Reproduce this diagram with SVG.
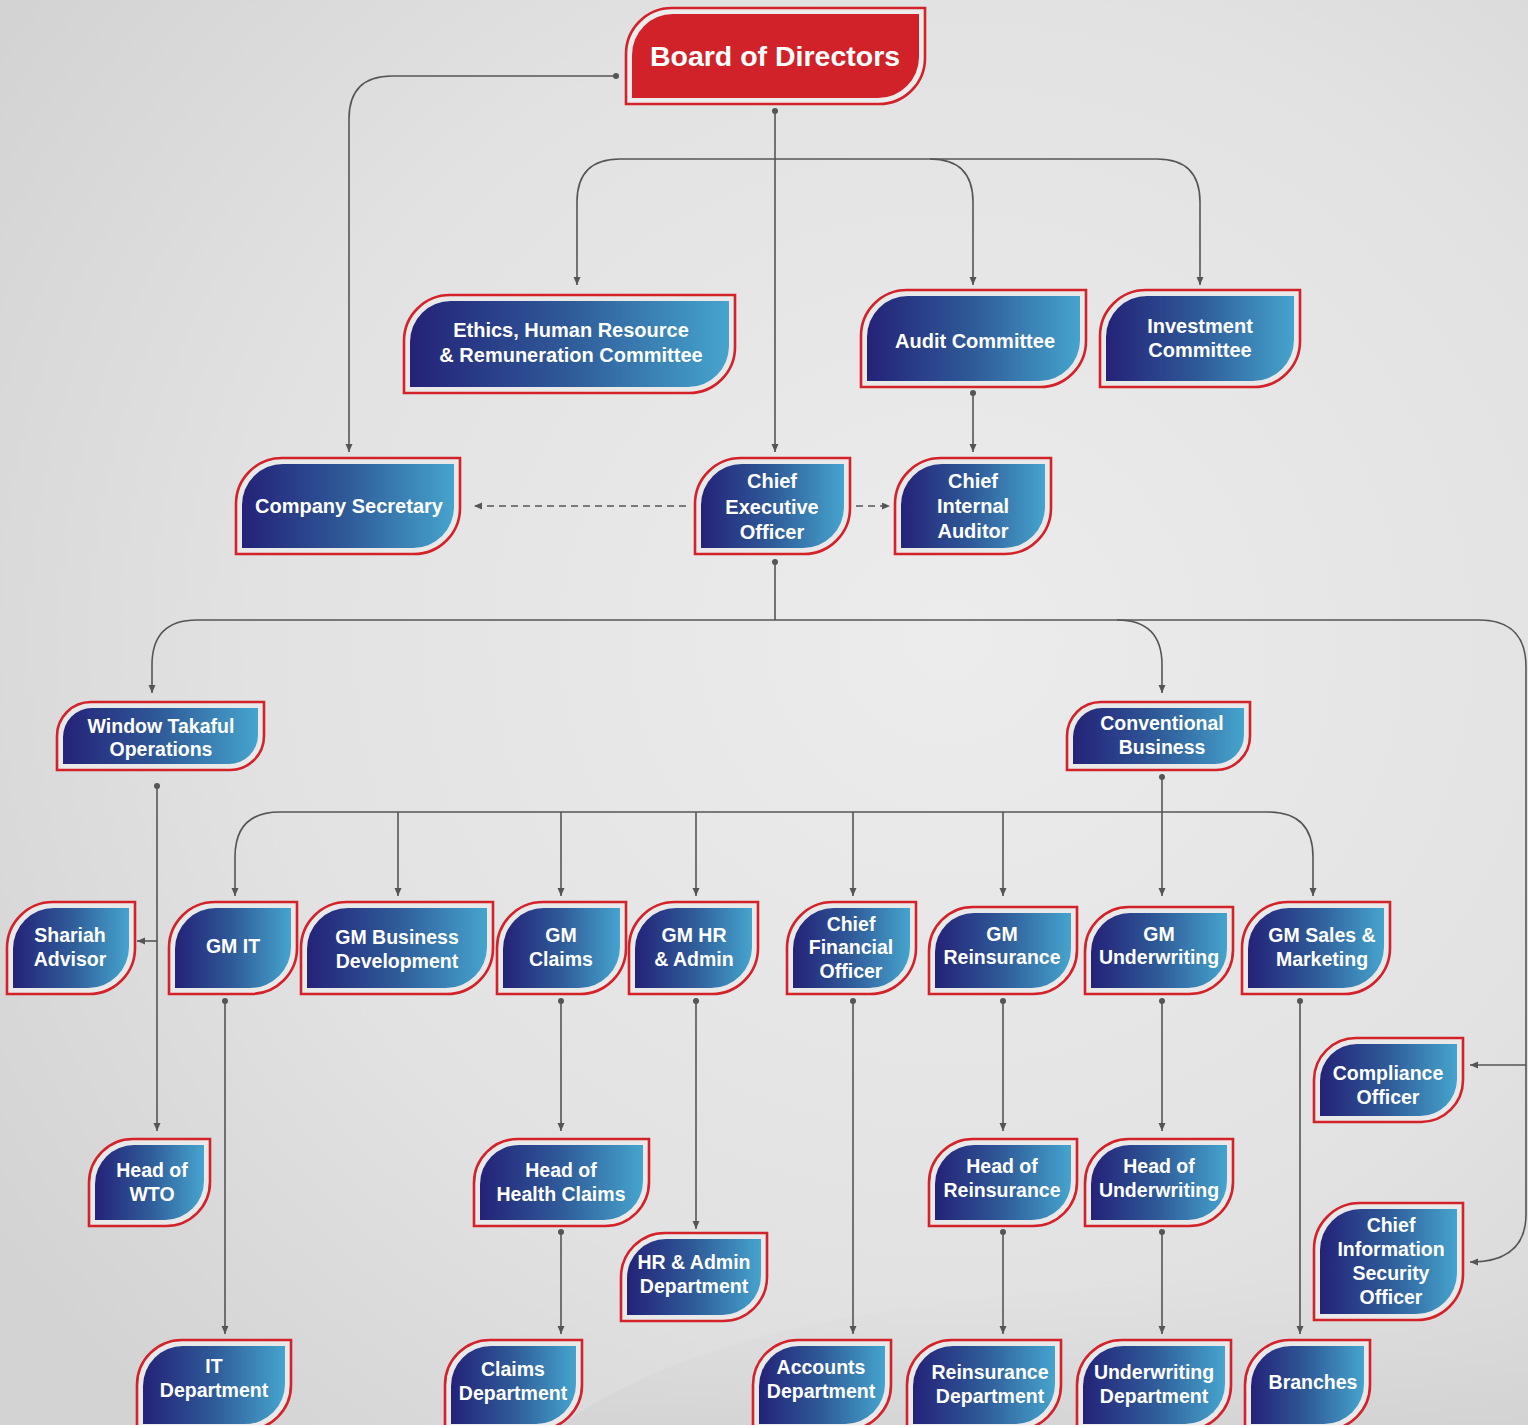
<svg xmlns="http://www.w3.org/2000/svg" width="1528" height="1425" viewBox="0 0 1528 1425">
<defs>
<linearGradient id="g" x1="0" y1="0" x2="1" y2="0">
<stop offset="0" stop-color="#242278"/>
<stop offset="0.5" stop-color="#2f5b99"/>
<stop offset="1" stop-color="#45a4cd"/>
</linearGradient>
<radialGradient id="bg" cx="0.62" cy="0.45" r="0.75">
<stop offset="0" stop-color="#ececec"/>
<stop offset="0.6" stop-color="#e2e2e2"/>
<stop offset="1" stop-color="#d3d3d3"/>
</radialGradient>
<linearGradient id="sw" x1="0" y1="0" x2="0" y2="1">
<stop offset="0" stop-color="#d8d8d8" stop-opacity="0"/>
<stop offset="1" stop-color="#cfcfcf" stop-opacity="0.9"/>
</linearGradient>
<marker id="ar" markerUnits="userSpaceOnUse" markerWidth="10" markerHeight="8" refX="8" refY="3.5" orient="auto">
<path d="M0,0 L8,3.5 L0,7 Z" fill="#555557"/>
</marker>
<marker id="dt" markerUnits="userSpaceOnUse" markerWidth="8" markerHeight="8" refX="4" refY="4">
<circle cx="4" cy="4" r="3" fill="#555557"/>
</marker>
<style>
.o{fill:#e9e9e9;stroke:#d3222a;stroke-width:2.6}
.i{fill:url(#g)}
.ob{fill:#ececec;stroke:#d3222a;stroke-width:2.6}
.ib{fill:#d1222a}
.t{fill:#ffffff;font-family:"Liberation Sans",Arial,Helvetica,sans-serif;font-weight:bold;font-size:19.5px;text-anchor:middle}
.t2{font-size:20px}
.c{fill:none;stroke:#555557;stroke-width:1.6}
.a{marker-end:url(#ar)}
.d{marker-start:url(#dt)}
.ds{stroke-dasharray:7 5}
</style>
</defs>
<rect width="1528" height="1425" fill="url(#bg)"/>
<path d="M560,1425 C700,1330 900,1280 1528,1270 V1425 Z" fill="url(#sw)" opacity="0.6"/>

<g id="connectors">
<path class="c d a" d="M616,76 H392 Q349,76 349,119 V452"/>
<path class="c d a" d="M775,111 V452"/>
<path class="c a" d="M775,159 H620 Q577,159 577,202 V285"/>
<path class="c a" d="M775,159 H930 Q973,159 973,202 V285"/>
<path class="c a" d="M930,159 H1157 Q1200,159 1200,202 V285"/>
<path class="c d a" d="M973,393 V452"/>
<path class="c ds a" d="M686,506 H474"/>
<path class="c ds a" d="M856,506 H890"/>
<path class="c d" d="M775,562 V620"/>
<path class="c a" d="M775,620 H197 Q152,620 152,665 V693"/>
<path class="c a" d="M775,620 H1117 Q1162,620 1162,665 V693"/>
<path class="c a" d="M1117,620 H1479 Q1526,620 1526,667 V1214 Q1526,1262 1470,1262"/>
<path class="c a" d="M1526,1065 H1470"/>
<path class="c d a" d="M157,786 V1131"/>
<path class="c a" d="M157,941 H137"/>
<path class="c d a" d="M1162,777 V896"/>
<path class="c a" d="M1162,812 H280 Q235,812 235,857 V896"/>
<path class="c a" d="M1162,812 H1268 Q1313,812 1313,857 V896"/>
<path class="c a" d="M398,812 V896"/>
<path class="c a" d="M561,812 V896"/>
<path class="c a" d="M696,812 V896"/>
<path class="c a" d="M853,812 V896"/>
<path class="c a" d="M1003,812 V896"/>
<path class="c d a" d="M225,1001 V1334"/>
<path class="c d a" d="M561,1001 V1131"/>
<path class="c d a" d="M561,1232 V1334"/>
<path class="c d a" d="M696,1001 V1229"/>
<path class="c d a" d="M853,1001 V1334"/>
<path class="c d a" d="M1003,1001 V1131"/>
<path class="c d a" d="M1003,1232 V1334"/>
<path class="c d a" d="M1162,1001 V1131"/>
<path class="c d a" d="M1162,1232 V1334"/>
<path class="c d a" d="M1300,1001 V1334"/>
</g>

<g id="board">
<path class="ob" d="M626,104 V54 A46,46 0 0 1 672,8 H925 V58 A46,46 0 0 1 879,104 Z"/>
<path class="ib" d="M632,98 V55 A41,41 0 0 1 673,14 H919 V57 A41,41 0 0 1 878,98 Z"/>
<text class="t" style="font-size:28.5px" x="775" y="66">Board of Directors</text>
</g>
<g id="ethics">
<path class="o" d="M404,393 V341 A46,46 0 0 1 450,295 H735 V347 A46,46 0 0 1 689,393 Z"/>
<path class="i" d="M410,387 V342 A41,41 0 0 1 451,301 H729 V346 A41,41 0 0 1 688,387 Z"/>
<text class="t t2" x="571" y="337">Ethics, Human Resource</text>
<text class="t t2" x="571" y="362">&amp; Remuneration Committee</text>
</g>
<g id="audit">
<path class="o" d="M861,387 V336 A46,46 0 0 1 907,290 H1086 V341 A46,46 0 0 1 1040,387 Z"/>
<path class="i" d="M867,381 V337 A41,41 0 0 1 908,296 H1080 V340 A41,41 0 0 1 1039,381 Z"/>
<text class="t t2" x="975" y="348">Audit Committee</text>
</g>
<g id="investment">
<path class="o" d="M1100,387 V336 A46,46 0 0 1 1146,290 H1300 V341 A46,46 0 0 1 1254,387 Z"/>
<path class="i" d="M1106,381 V337 A41,41 0 0 1 1147,296 H1294 V340 A41,41 0 0 1 1253,381 Z"/>
<text class="t t2" x="1200" y="333">Investment</text>
<text class="t t2" x="1200" y="357">Committee</text>
</g>
<g id="company-secretary">
<path class="o" d="M236,554 V504 A46,46 0 0 1 282,458 H460 V508 A46,46 0 0 1 414,554 Z"/>
<path class="i" d="M242,548 V505 A41,41 0 0 1 283,464 H454 V507 A41,41 0 0 1 413,548 Z"/>
<text class="t t2" x="349" y="513">Company Secretary</text>
</g>
<g id="ceo">
<path class="o" d="M695,554 V504 A46,46 0 0 1 741,458 H850 V508 A46,46 0 0 1 804,554 Z"/>
<path class="i" d="M701,548 V505 A41,41 0 0 1 742,464 H844 V507 A41,41 0 0 1 803,548 Z"/>
<text class="t t2" x="772" y="488">Chief</text>
<text class="t t2" x="772" y="514">Executive</text>
<text class="t t2" x="772" y="539">Officer</text>
</g>
<g id="cia">
<path class="o" d="M895,554 V504 A46,46 0 0 1 941,458 H1051 V508 A46,46 0 0 1 1005,554 Z"/>
<path class="i" d="M901,548 V505 A41,41 0 0 1 942,464 H1045 V507 A41,41 0 0 1 1004,548 Z"/>
<text class="t t2" x="973" y="488">Chief</text>
<text class="t t2" x="973" y="513">Internal</text>
<text class="t t2" x="973" y="538">Auditor</text>
</g>
<g id="window-takaful">
<path class="o" d="M57,770 V736 A34,34 0 0 1 91,702 H264 V736 A34,34 0 0 1 230,770 Z"/>
<path class="i" d="M63,764 V737 A29,29 0 0 1 92,708 H258 V735 A29,29 0 0 1 229,764 Z"/>
<text class="t" x="161" y="733">Window Takaful</text>
<text class="t" x="161" y="756">Operations</text>
</g>
<g id="conventional">
<path class="o" d="M1067,770 V736 A34,34 0 0 1 1101,702 H1250 V736 A34,34 0 0 1 1216,770 Z"/>
<path class="i" d="M1073,764 V737 A29,29 0 0 1 1102,708 H1244 V735 A29,29 0 0 1 1215,764 Z"/>
<text class="t" x="1162" y="730">Conventional</text>
<text class="t" x="1162" y="754">Business</text>
</g>
<g id="shariah">
<path class="o" d="M7,994 V948 A46,46 0 0 1 53,902 H135 V948 A46,46 0 0 1 89,994 Z"/>
<path class="i" d="M13,988 V949 A41,41 0 0 1 54,908 H129 V947 A41,41 0 0 1 88,988 Z"/>
<text class="t" x="70" y="942">Shariah</text>
<text class="t" x="70" y="966">Advisor</text>
</g>
<g id="gm-it">
<path class="o" d="M169,994 V948 A46,46 0 0 1 215,902 H297 V948 A46,46 0 0 1 251,994 Z"/>
<path class="i" d="M175,988 V949 A41,41 0 0 1 216,908 H291 V947 A41,41 0 0 1 250,988 Z"/>
<text class="t" x="233" y="953">GM IT</text>
</g>
<g id="gm-bd">
<path class="o" d="M301,994 V948 A46,46 0 0 1 347,902 H493 V948 A46,46 0 0 1 447,994 Z"/>
<path class="i" d="M307,988 V949 A41,41 0 0 1 348,908 H487 V947 A41,41 0 0 1 446,988 Z"/>
<text class="t" x="397" y="944">GM Business</text>
<text class="t" x="397" y="968">Development</text>
</g>
<g id="gm-claims">
<path class="o" d="M497,994 V948 A46,46 0 0 1 543,902 H626 V948 A46,46 0 0 1 580,994 Z"/>
<path class="i" d="M503,988 V949 A41,41 0 0 1 544,908 H620 V947 A41,41 0 0 1 579,988 Z"/>
<text class="t" x="561" y="942">GM</text>
<text class="t" x="561" y="966">Claims</text>
</g>
<g id="gm-hr">
<path class="o" d="M629,994 V948 A46,46 0 0 1 675,902 H758 V948 A46,46 0 0 1 712,994 Z"/>
<path class="i" d="M635,988 V949 A41,41 0 0 1 676,908 H752 V947 A41,41 0 0 1 711,988 Z"/>
<text class="t" x="694" y="942">GM HR</text>
<text class="t" x="694" y="966">&amp; Admin</text>
</g>
<g id="cfo">
<path class="o" d="M787,994 V948 A46,46 0 0 1 833,902 H916 V948 A46,46 0 0 1 870,994 Z"/>
<path class="i" d="M793,988 V949 A41,41 0 0 1 834,908 H910 V947 A41,41 0 0 1 869,988 Z"/>
<text class="t" x="851" y="931">Chief</text>
<text class="t" x="851" y="954">Financial</text>
<text class="t" x="851" y="978">Officer</text>
</g>
<g id="gm-reinsurance">
<path class="o" d="M929,994 V951 A44,44 0 0 1 973,907 H1077 V950 A44,44 0 0 1 1033,994 Z"/>
<path class="i" d="M935,988 V952 A39,39 0 0 1 974,913 H1071 V949 A39,39 0 0 1 1032,988 Z"/>
<text class="t" x="1002" y="941">GM</text>
<text class="t" x="1002" y="964">Reinsurance</text>
</g>
<g id="gm-underwriting">
<path class="o" d="M1085,994 V951 A44,44 0 0 1 1129,907 H1233 V950 A44,44 0 0 1 1189,994 Z"/>
<path class="i" d="M1091,988 V952 A39,39 0 0 1 1130,913 H1227 V949 A39,39 0 0 1 1188,988 Z"/>
<text class="t" x="1159" y="941">GM</text>
<text class="t" x="1159" y="964">Underwriting</text>
</g>
<g id="gm-sales">
<path class="o" d="M1242,994 V948 A46,46 0 0 1 1288,902 H1390 V948 A46,46 0 0 1 1344,994 Z"/>
<path class="i" d="M1248,988 V949 A41,41 0 0 1 1289,908 H1384 V947 A41,41 0 0 1 1343,988 Z"/>
<text class="t" x="1322" y="942">GM Sales &amp;</text>
<text class="t" x="1322" y="966">Marketing</text>
</g>
<g id="compliance">
<path class="o" d="M1314,1122 V1080 A42,42 0 0 1 1356,1038 H1463 V1080 A42,42 0 0 1 1421,1122 Z"/>
<path class="i" d="M1320,1116 V1081 A37,37 0 0 1 1357,1044 H1457 V1079 A37,37 0 0 1 1420,1116 Z"/>
<text class="t" x="1388" y="1080">Compliance</text>
<text class="t" x="1388" y="1104">Officer</text>
</g>
<g id="head-wto">
<path class="o" d="M89,1226 V1183 A44,44 0 0 1 133,1139 H210 V1182 A44,44 0 0 1 166,1226 Z"/>
<path class="i" d="M95,1220 V1184 A39,39 0 0 1 134,1145 H204 V1181 A39,39 0 0 1 165,1220 Z"/>
<text class="t" x="152" y="1177">Head of</text>
<text class="t" x="152" y="1201">WTO</text>
</g>
<g id="head-health-claims">
<path class="o" d="M474,1226 V1183 A44,44 0 0 1 518,1139 H649 V1182 A44,44 0 0 1 605,1226 Z"/>
<path class="i" d="M480,1220 V1184 A39,39 0 0 1 519,1145 H643 V1181 A39,39 0 0 1 604,1220 Z"/>
<text class="t" x="561" y="1177">Head of</text>
<text class="t" x="561" y="1201">Health Claims</text>
</g>
<g id="head-reinsurance">
<path class="o" d="M929,1226 V1183 A44,44 0 0 1 973,1139 H1077 V1182 A44,44 0 0 1 1033,1226 Z"/>
<path class="i" d="M935,1220 V1184 A39,39 0 0 1 974,1145 H1071 V1181 A39,39 0 0 1 1032,1220 Z"/>
<text class="t" x="1002" y="1173">Head of</text>
<text class="t" x="1002" y="1197">Reinsurance</text>
</g>
<g id="head-underwriting">
<path class="o" d="M1085,1226 V1183 A44,44 0 0 1 1129,1139 H1233 V1182 A44,44 0 0 1 1189,1226 Z"/>
<path class="i" d="M1091,1220 V1184 A39,39 0 0 1 1130,1145 H1227 V1181 A39,39 0 0 1 1188,1220 Z"/>
<text class="t" x="1159" y="1173">Head of</text>
<text class="t" x="1159" y="1197">Underwriting</text>
</g>
<g id="hr-admin-dept">
<path class="o" d="M621,1321 V1277 A44,44 0 0 1 665,1233 H767 V1277 A44,44 0 0 1 723,1321 Z"/>
<path class="i" d="M627,1315 V1278 A39,39 0 0 1 666,1239 H761 V1276 A39,39 0 0 1 722,1315 Z"/>
<text class="t" x="694" y="1269">HR &amp; Admin</text>
<text class="t" x="694" y="1293">Department</text>
</g>
<g id="ciso">
<path class="o" d="M1314,1320 V1249 A46,46 0 0 1 1360,1203 H1463 V1274 A46,46 0 0 1 1417,1320 Z"/>
<path class="i" d="M1320,1314 V1250 A41,41 0 0 1 1361,1209 H1457 V1273 A41,41 0 0 1 1416,1314 Z"/>
<text class="t" x="1391" y="1232">Chief</text>
<text class="t" x="1391" y="1256">Information</text>
<text class="t" x="1391" y="1280">Security</text>
<text class="t" x="1391" y="1304">Officer</text>
</g>
<g id="it-dept">
<path class="o" d="M137,1430 V1385 A45,45 0 0 1 182,1340 H291 V1385 A45,45 0 0 1 246,1430 Z"/>
<path class="i" d="M143,1424 V1386 A40,40 0 0 1 183,1346 H285 V1384 A40,40 0 0 1 245,1424 Z"/>
<text class="t" x="214" y="1373">IT</text>
<text class="t" x="214" y="1397">Department</text>
</g>
<g id="claims-dept">
<path class="o" d="M445,1430 V1385 A45,45 0 0 1 490,1340 H582 V1385 A45,45 0 0 1 537,1430 Z"/>
<path class="i" d="M451,1424 V1386 A40,40 0 0 1 491,1346 H576 V1384 A40,40 0 0 1 536,1424 Z"/>
<text class="t" x="513" y="1376">Claims</text>
<text class="t" x="513" y="1400">Department</text>
</g>
<g id="accounts-dept">
<path class="o" d="M753,1430 V1385 A45,45 0 0 1 798,1340 H891 V1385 A45,45 0 0 1 846,1430 Z"/>
<path class="i" d="M759,1424 V1386 A40,40 0 0 1 799,1346 H885 V1384 A40,40 0 0 1 845,1424 Z"/>
<text class="t" x="821" y="1374">Accounts</text>
<text class="t" x="821" y="1398">Department</text>
</g>
<g id="reinsurance-dept">
<path class="o" d="M907,1430 V1385 A45,45 0 0 1 952,1340 H1061 V1385 A45,45 0 0 1 1016,1430 Z"/>
<path class="i" d="M913,1424 V1386 A40,40 0 0 1 953,1346 H1055 V1384 A40,40 0 0 1 1015,1424 Z"/>
<text class="t" x="990" y="1379">Reinsurance</text>
<text class="t" x="990" y="1403">Department</text>
</g>
<g id="underwriting-dept">
<path class="o" d="M1077,1430 V1385 A45,45 0 0 1 1122,1340 H1231 V1385 A45,45 0 0 1 1186,1430 Z"/>
<path class="i" d="M1083,1424 V1386 A40,40 0 0 1 1123,1346 H1225 V1384 A40,40 0 0 1 1185,1424 Z"/>
<text class="t" x="1154" y="1379">Underwriting</text>
<text class="t" x="1154" y="1403">Department</text>
</g>
<g id="branches">
<path class="o" d="M1245,1430 V1385 A45,45 0 0 1 1290,1340 H1370 V1385 A45,45 0 0 1 1325,1430 Z"/>
<path class="i" d="M1251,1424 V1386 A40,40 0 0 1 1291,1346 H1364 V1384 A40,40 0 0 1 1324,1424 Z"/>
<text class="t" x="1313" y="1389">Branches</text>
</g>
</svg>
